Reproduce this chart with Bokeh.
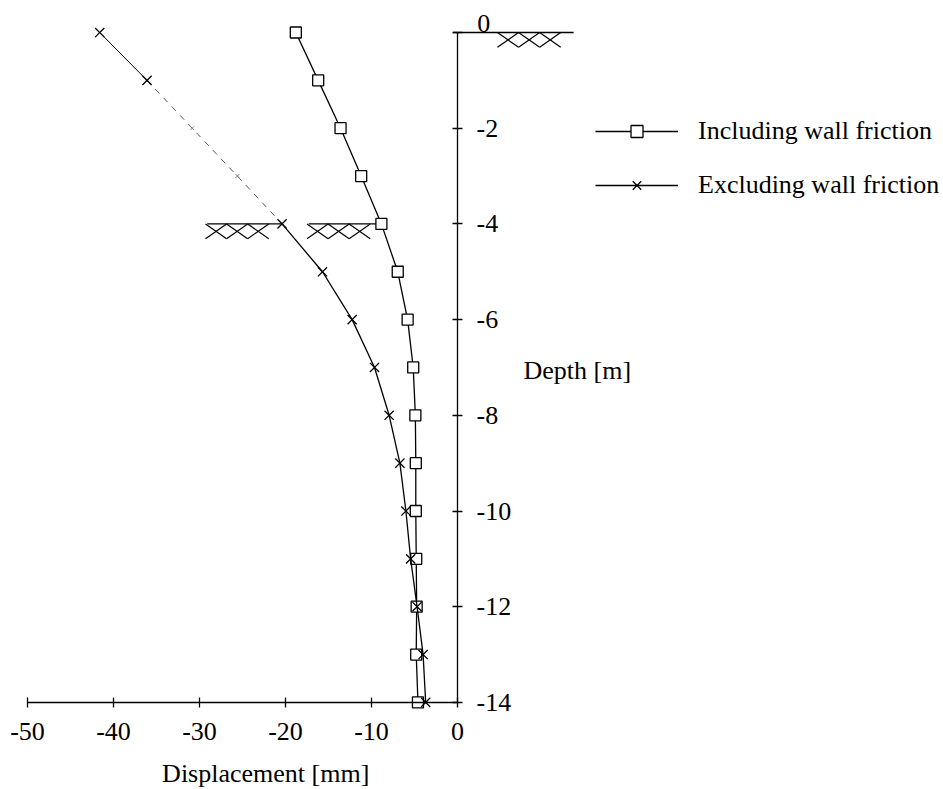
from bokeh.plotting import figure
from bokeh.models import (LinearAxis, FixedTicker, Range1d, Label, Legend,
                          LegendItem, ColumnDataSource)
from bokeh.embed import file_html
from bokeh.resources import INLINE

# ---------------- data ----------------
depth = [0, -1, -2, -3, -4, -5, -6, -7, -8, -9, -10, -11, -12, -13, -14]
including = [-18.8, -16.2, -13.6, -11.2, -8.85, -6.95, -5.8, -5.15, -4.9,
             -4.85, -4.85, -4.8, -4.75, -4.8, -4.6]
excluding = [-41.6, -36.1, -30.85, -25.6, -20.4, -15.7, -12.25, -9.65, -7.95,
             -6.7, -6.0, -5.45, -4.7, -4.0, -3.7]
x_ticks = [-50, -40, -30, -20, -10, 0]
y_ticks = [-14, -12, -10, -8, -6, -4, -2, 0]

# ground surfaces (level, start, end) and hatch start positions
ground_level = [0, -4, -4]
ground_from = [-0.5, -29.1, -17.3]
ground_to = [13.5, -20.4, -8.85]
hatch_start = [4.65, -29.3, -17.5]
hatch_count = 3

FONT = "Liberation Serif"
FS = "26px"

p = figure(width=943, height=789, output_backend="svg", toolbar_location=None,
           x_axis_type=None, y_axis_type=None,
           x_range=Range1d(-53.14, 56.51), y_range=Range1d(-15.82, 0.669),
           min_border=0)
p.outline_line_color = None
p.background_fill_color = "white"
p.border_fill_color = "white"

# axes
xaxis = LinearAxis(fixed_location=-14, bounds=(-50, 0),
                   ticker=FixedTicker(ticks=x_ticks),
                   major_label_overrides={t: str(t) for t in x_ticks})
y_over = {t: str(t) for t in y_ticks}
y_over[0] = ""
yaxis = LinearAxis(fixed_location=0, bounds=(-14, 0),
                   ticker=FixedTicker(ticks=y_ticks),
                   major_label_overrides=y_over)
for ax in (xaxis, yaxis):
    ax.axis_line_color = "black"
    ax.axis_line_width = 1.3
    ax.major_tick_in = 5
    ax.major_tick_out = 5
    ax.major_tick_line_width = 1.3
    ax.minor_tick_line_color = None
    ax.major_label_text_font = FONT
    ax.major_label_text_font_size = FS
    ax.major_label_text_color = "black"
xaxis.major_label_standoff = 16
yaxis.major_label_standoff = 14
p.add_layout(xaxis, "below")
p.add_layout(yaxis, "right")

# "0" depth label sits above the ground line in the original
p.add_layout(Label(x=2.3, y=0.19, text="0", text_font=FONT,
                   text_font_size=FS, text_baseline="middle",
                   text_color="black"))

# ground surfaces with hatching
p.segment(x0=ground_from, y0=ground_level, x1=ground_to, y1=ground_level,
          line_color="black", line_width=1.4)
hw, hd = 2.45, 0.31
hx0, hy0, hx1, hy1 = [], [], [], []
for start, lev in zip(hatch_start, ground_level):
    for i in range(hatch_count):
        a = start + i * hw
        b = a + hw
        hx0 += [a, b]
        hy0 += [lev, lev]
        hx1 += [b, a]
        hy1 += [lev - hd, lev - hd]
p.segment(x0=hx0, y0=hy0, x1=hx1, y1=hy1, line_color="black", line_width=1.2)

# including wall friction
src_in = ColumnDataSource(dict(x=including, y=depth))
l_in = p.line("x", "y", source=src_in, line_color="black", line_width=1.3)
s_in = p.scatter("x", "y", source=src_in, marker="square", size=11,
                 fill_color="white", line_color="black", line_width=1.3)

# excluding wall friction (upper part faint in the original print)
src_ex_top = ColumnDataSource(dict(x=excluding[:2], y=depth[:2]))
src_ex_mid = ColumnDataSource(dict(x=excluding[1:5], y=depth[1:5]))
src_ex_low = ColumnDataSource(dict(x=excluding[4:], y=depth[4:]))
p.line("x", "y", source=src_ex_top, line_color="black", line_width=1.0)
p.line("x", "y", source=src_ex_mid, line_color="#555555", line_width=1.0,
       line_dash="6 6")
l_ex = p.line("x", "y", source=src_ex_low, line_color="black", line_width=1.3)
src_ex_faint = ColumnDataSource(dict(x=excluding[2:4], y=depth[2:4]))
p.scatter("x", "y", source=src_ex_faint, marker="x", size=5,
          line_color="#777777", line_width=1)
src_ex_pts = ColumnDataSource(dict(x=excluding[:2] + excluding[4:],
                                   y=depth[:2] + depth[4:]))
s_ex = p.scatter("x", "y", source=src_ex_pts, marker="x", size=13,
                 line_color="black", line_width=1.3)

legend = Legend(items=[
    LegendItem(label="Including wall friction", renderers=[l_in, s_in]),
    LegendItem(label="Excluding wall friction", renderers=[l_ex, s_ex]),
], location=(595, 589), glyph_width=83, glyph_height=30, label_height=30,
    label_standoff=20, spacing=24, padding=0, margin=0,
    label_text_font=FONT, label_text_font_size=FS, label_text_color="black",
    border_line_color=None, background_fill_alpha=0)
p.add_layout(legend, "center")

p.add_layout(Label(x=-22.3, y=-15.49, text="Displacement [mm]",
                   text_font=FONT, text_font_size=FS, text_align="center",
                   text_baseline="middle", text_color="black"))
p.add_layout(Label(x=7.67, y=-7.06, text="Depth [m]",
                   text_font=FONT, text_font_size=FS, text_align="left",
                   text_baseline="middle", text_color="black"))

open("out.html", "w").write(file_html(p, INLINE))
